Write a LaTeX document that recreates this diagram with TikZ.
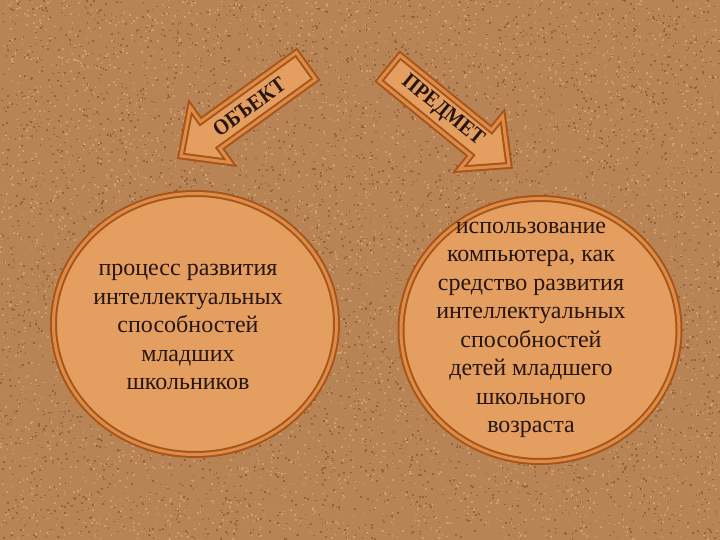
\documentclass[tikz,border=0pt]{standalone}
\usepackage{fontspec}
\setmainfont{Liberation Serif}
\usepackage{tikz}
\usetikzlibrary{shapes.geometric}

\definecolor{bgcol}{RGB}{184,132,86}
\definecolor{specdark}{RGB}{150,100,58}
\definecolor{speclight}{RGB}{208,158,106}
\definecolor{shapefill}{RGB}{228,158,96}
\definecolor{rimdark}{RGB}{166,86,28}
\definecolor{rimband}{RGB}{222,140,70}
\definecolor{inkcol}{RGB}{38,22,14}

\tikzstyle{rim} = [draw=rimdark, double=rimband, double distance=3pt, line width=2pt, fill=shapefill]
\tikzstyle{circ} = [ellipse, rim, inner sep=0pt]
\tikzstyle{circtext} = [align=center, text=inkcol, font=\fontsize{24}{28.5}\selectfont]
\tikzstyle{arrowtext} = [text=inkcol, font=\fontsize{22}{26}\selectfont\bfseries, xscale=0.9, transform shape]

\begin{document}
\begin{tikzpicture}[x=1pt, y=1pt]

        \useasboundingbox (0,0) rectangle (720,540);
        \fill [bgcol] (0,0) rectangle (720,540);

        % grain of the background
        \pgfmathsetseed{42}
        \foreach \i in {1,...,5000}{
            \fill [specdark] (720*rnd,540*rnd) rectangle ++(1.6,1.6);
            \fill [speclight] (720*rnd,540*rnd) rectangle ++(1.6,1.6);
        }

        \node (lcirc) [circ, minimum width=283pt, minimum height=261pt] at (195,216) {};
        \node (rcirc) [circ, minimum width=278pt, minimum height=263pt] at (540,210) {};

        \node (ltext) [circtext] at ([xshift=-7pt, yshift=-3pt]lcirc.center) {процесс развития\\интеллектуальных\\способностей\\младших\\школьников};
        \node (rtext) [circtext] at ([xshift=-9pt]rcirc.center) {использование\\компьютера, как\\средство развития\\интеллектуальных\\способностей\\детей младшего\\школьного\\возраста};

        % block arrows
        \begin{scope}[shift={(181,384)}, rotate=35.8]
            \draw [rim] (0,0) -- (36,34) -- (36,16.5) -- (154,16.5) -- (154,-16.5) -- (36,-16.5) -- (36,-34) -- cycle;
            \node (obj) [arrowtext] at (84,0) {ОБЪЕКТ};
        \end{scope}
        \begin{scope}[shift={(509,374.5)}, rotate=-39.2]
            \draw [rim] (0,0) -- (-36,34) -- (-36,16.5) -- (-154,16.5) -- (-154,-16.5) -- (-36,-16.5) -- (-36,-34) -- cycle;
            \node (subj) [arrowtext] at (-86,0) {ПРЕДМЕТ};
        \end{scope}

    \end{tikzpicture}
\end{document}
